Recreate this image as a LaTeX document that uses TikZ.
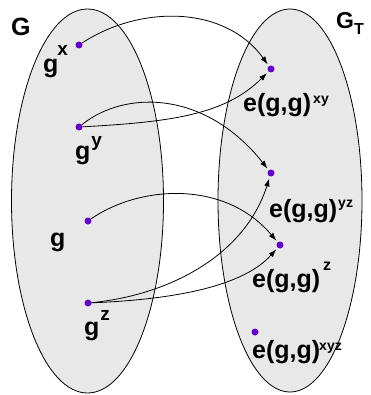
\documentclass[tikz,border=0pt]{standalone}
\usepackage{fontspec}
\setmainfont{Liberation Sans}
\usepackage{tikz}
\usetikzlibrary{arrows.meta}
\definecolor{setgray}{RGB}{232,232,232}
\definecolor{dotpurple}{RGB}{102,0,204}
\tikzstyle{line} = [draw, line width=0.8pt, shorten >=2pt, -{Latex[length=8pt,width=5.5pt]}]
\tikzstyle{dot} = [circle, fill=dotpurple, inner sep=0pt, minimum size=7pt]
\tikzstyle{lbl} = [inner sep=0pt, anchor=base west, font=\bfseries\fontsize{25}{25}\selectfont]
\newcommand{\upidx}[3]{\raisebox{#1}{\fontsize{#2}{#2}\selectfont #3}}

\begin{document}
\begin{tikzpicture}[x=1pt,y=-1pt]
      \useasboundingbox (0,0) rectangle (370,395);

      % the two groups
      \draw[fill=setgray, line width=0.8pt] (87.5,201) ellipse [x radius=76, y radius=192];
      \draw[fill=setgray, line width=0.8pt] (290,200.5) ellipse [x radius=72, y radius=191.5];

      \node[lbl] (G) at (11,36) {G};
      \node[lbl, font=\bfseries\fontsize{23}{23}\selectfont] (GT) at (336,29) {G\upidx{-6pt}{16}{T}};

      % elements of G
      \node[dot] (gx) at (79,45) {};
      \node[dot] (gy) at (79,127) {};
      \node[dot] (g) at (88,221) {};
      \node[dot] (gz) at (88,303) {};

      \node[lbl] (lgx) at (43,72.5) {g\kern-1pt\upidx{17pt}{19}{x}};
      \node[lbl] (lgy) at (75,160) {g\kern1pt\upidx{13pt}{19}{y}};
      \node[lbl] (lg) at (50,246) {g};
      \node[lbl] (lgz) at (84,335) {g\kern1pt\upidx{15pt}{19}{z}};

      % elements of G_T
      \node[dot] (exy) at (271,69) {};
      \node[dot] (eyz) at (271,173) {};
      \node[dot] (ez) at (280,245) {};
      \node[dot] (exyz) at (255,332) {};

      \node[lbl] (lexy) at (243,112) {e(g,g)\kern2pt\upidx{8pt}{14}{xy}};
      \node[lbl] (leyz) at (269,217) {e(g,g)\kern1pt\upidx{10pt}{14}{yz}};
      \node[lbl] (lez) at (252,287) {e(g,g)\kern3pt\upidx{17pt}{16}{z}};
      \node[lbl] (lexyz) at (252,358) {e(g,g)\kern-1pt\upidx{8pt}{14}{xyz}};

      % pairing arrows
      \path[line] (gx) .. controls (140,5) and (225,5) .. (exy);
      \path[line] (gy) .. controls (170,122) and (225,115) .. (exy);
      \path[line] (gy) .. controls (125,90) and (205,90) .. (eyz);
      \path[line] (g) .. controls (140,185) and (225,180) .. (ez);
      \path[line] (gz) .. controls (170,295) and (245,255) .. (eyz);
      \path[line] (gz) .. controls (160,300) and (240,290) .. (ez);
\end{tikzpicture}
\end{document}
